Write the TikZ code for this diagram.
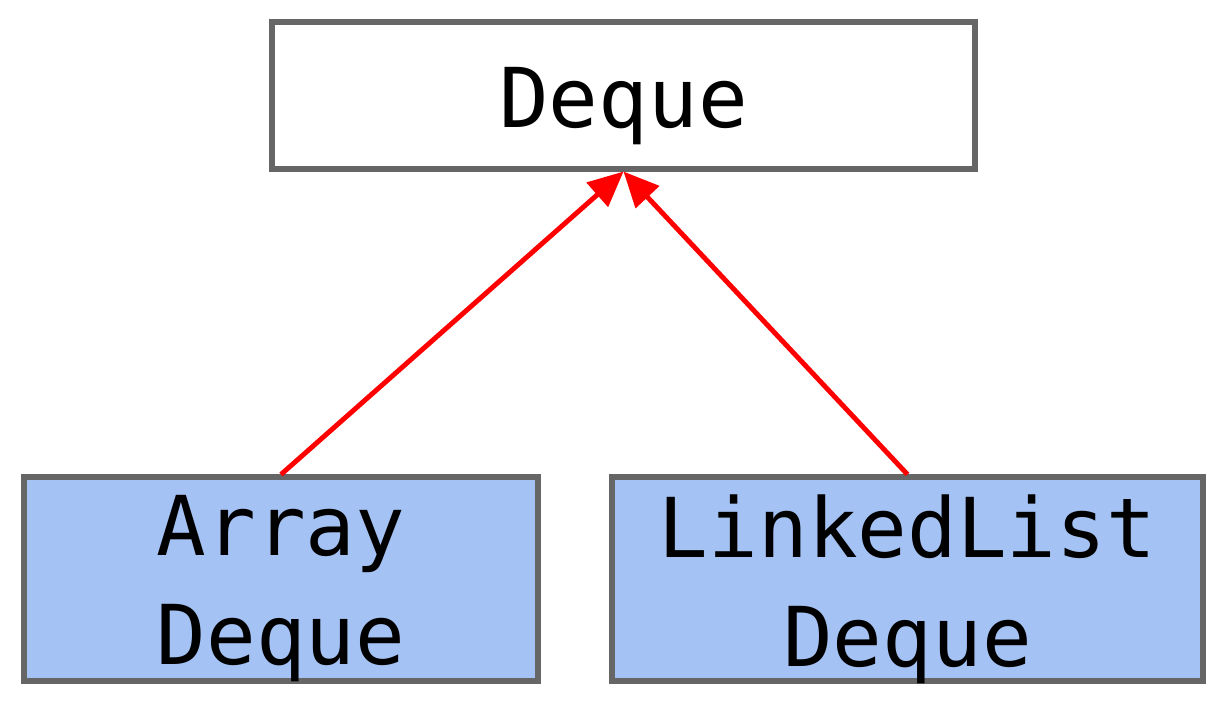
\documentclass[tikz,border=0pt]{standalone}
\usepackage{fontspec}
\setmonofont{DejaVu Sans Mono}
\usetikzlibrary{arrows.meta}
\definecolor{boxgray}{HTML}{666666}
\definecolor{boxblue}{HTML}{A4C2F4}
\tikzset{
  cls/.style={draw=boxgray, line width=2.9pt, inner sep=0pt},
  lbl/.style={inner sep=0pt, align=center, font=\fontsize{47}{62}\selectfont\ttfamily},
  inh/.style={draw=red, line width=2.8pt, -{Triangle[length=20pt,width=18pt]}}
}
\begin{document}
\begin{tikzpicture}[x=0.02cm,y=-0.02cm]
\useasboundingbox (0,0) rectangle (1222,706);
\node[cls, minimum width=703*0.02cm, minimum height=147*0.02cm] (deque) at (623.5,95.5) {};
\node[cls, fill=boxblue, minimum width=514*0.02cm, minimum height=204*0.02cm] (array) at (281,579) {};
\node[cls, fill=boxblue, minimum width=591*0.02cm, minimum height=204*0.02cm] (linked) at (907.5,579) {};
\node[lbl] (dequeT) at ([yshift=-0.22cm]deque.center) {Deque};
\node[lbl] (arrayT) at ([yshift=-0.2cm]array.center) {Array\\Deque};
\node[lbl] (linkedT) at ([yshift=-0.2cm]linked.center) {LinkedList\\Deque};
\draw[inh] (array.north) -- (deque.south);
\draw[inh] (linked.north) -- (deque.south);
\end{tikzpicture}
\end{document}
